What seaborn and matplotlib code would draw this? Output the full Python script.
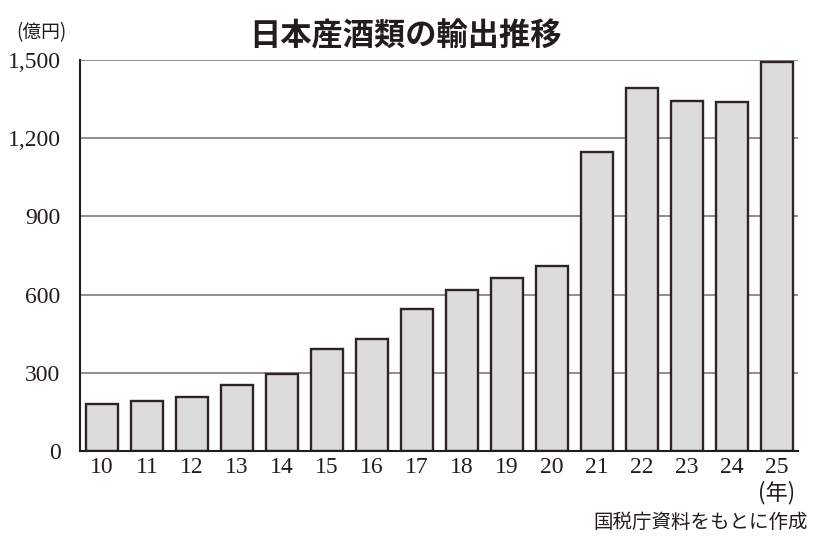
import matplotlib
matplotlib.use("Agg")
import matplotlib.pyplot as plt
import seaborn as sns
import pandas as pd

years = ["10", "11", "12", "13", "14", "15", "16", "17", "18", "19", "20", "21", "22", "23", "24", "25"]
values = [180, 190, 208, 252, 294, 390, 429, 544, 617, 662, 711, 1146, 1391, 1343, 1337, 1494]
yticks = [0, 300, 600, 900, 1200, 1500]
ytick_labels = ["0", "300", "600", "900", "1,200", "1,500"]

sns.set_theme(style="white")
plt.rcParams['font.family'] = ['Noto Sans CJK JP', 'DejaVu Sans']

df = pd.DataFrame({"year": years, "value": values})

fig = plt.figure(figsize=(8.2, 5.52), dpi=100)
ax = fig.add_axes([80/820, 1-451/552, (798-80)/820, (451-60)/552])

for y in yticks[1:]:
    ax.axhline(y, color="#8a8585", lw=1.3, zorder=0)

sns.barplot(data=df, x="year", y="value", ax=ax, color="#dcdcdc",
            edgecolor="#2e2424", linewidth=1.7, width=0.71, saturation=1, zorder=2)

ax.set_xlim(-0.49, 15.47)
ax.set_ylim(0, 1500)
ax.set_yticks(yticks)
ax.set_yticklabels(ytick_labels, family="Liberation Serif", fontsize=17, color="#231c1c")
ax.set_xticks(range(len(years)))
ax.set_xticklabels(years, family="Liberation Serif", fontsize=17, color="#231c1c")
ax.tick_params(axis="both", length=0)
ax.tick_params(axis="y", pad=14)
ax.tick_params(axis="x", pad=4)
ax.set_xlabel("")
ax.set_ylabel("")

for s in ["top", "right"]:
    ax.spines[s].set_visible(False)
ax.spines["left"].set_color("#231c1c")
ax.spines["left"].set_linewidth(1.5)
ax.spines["bottom"].set_color("#231c1c")
ax.spines["bottom"].set_linewidth(1.5)
ax.spines["left"].set_zorder(3)
ax.spines["bottom"].set_zorder(3)

fig.text(405/820, 1-36/552, "日本産酒類の輸出推移", ha="center", va="center",
         fontsize=22.5, fontweight="bold", color="#231c1c")
fig.text(41/820, 1-33/552, "(億円)", ha="center", va="center", fontsize=13.5, color="#231c1c")
fig.text(777/820, 1-493/552, "(年)", ha="center", va="center", fontsize=16, color="#231c1c")
fig.text(808/820, 1-522/552, "国税庁資料をもとに作成", ha="right", va="center", fontsize=14, color="#231c1c")

fig.savefig("out.png", dpi=100)
